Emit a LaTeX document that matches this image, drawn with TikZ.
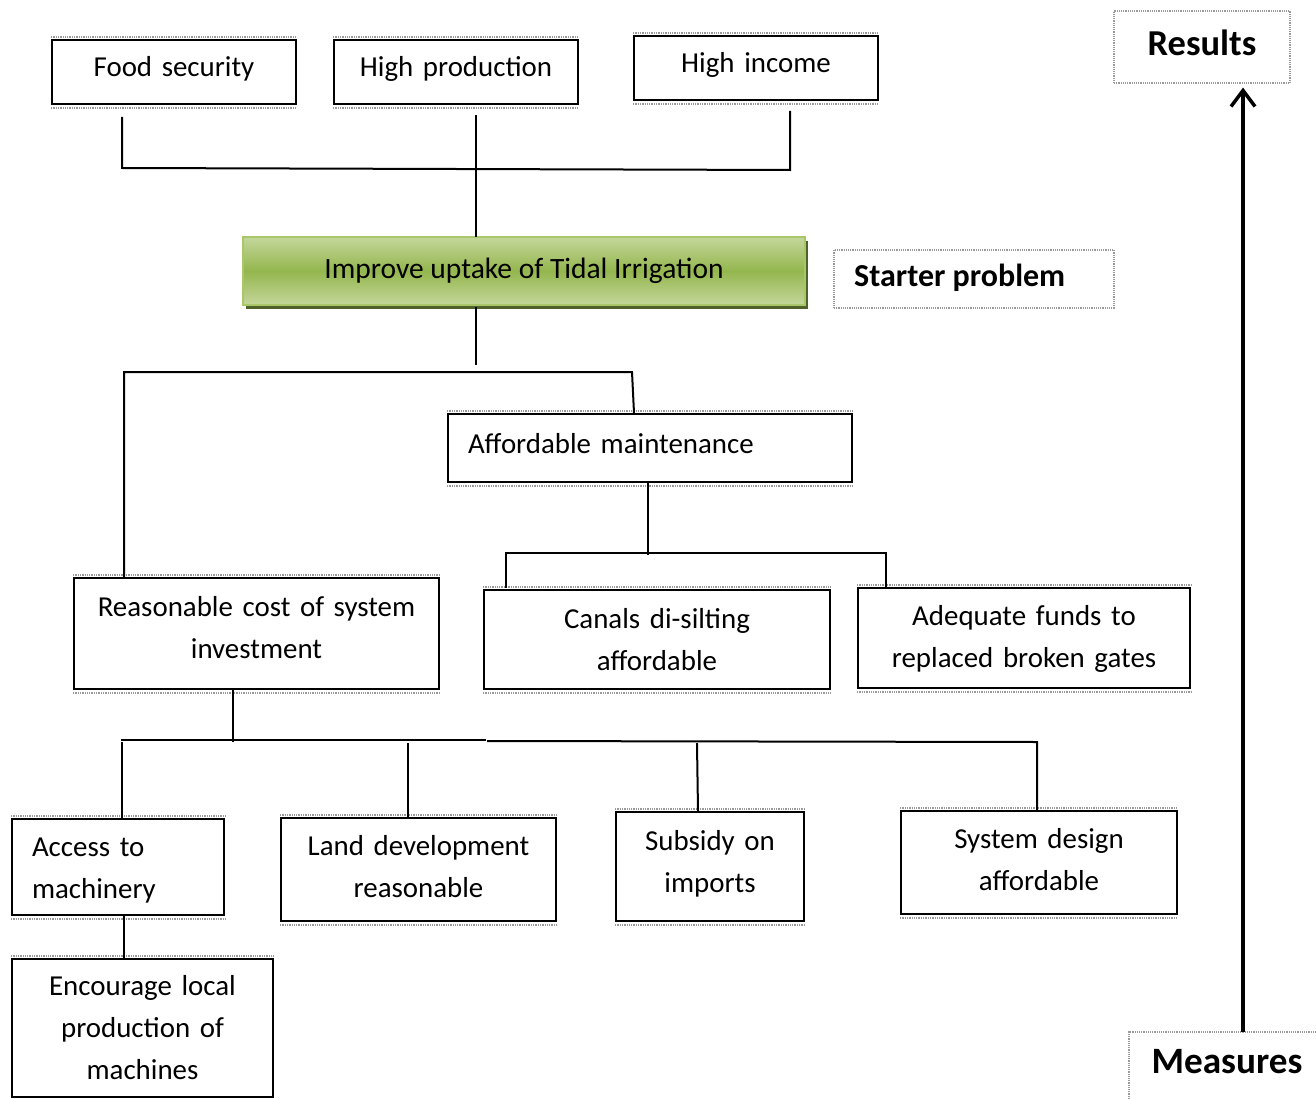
\documentclass[tikz,border=0pt]{standalone}
\usepackage{fontspec}
\setmainfont{Carlito}
\usetikzlibrary{arrows.meta,shadows}

\definecolor{leafmid}{HTML}{94B64E}
\definecolor{leaflight}{HTML}{C4D79B}
\definecolor{leafedge}{HTML}{A9C76A}
\definecolor{leafdark}{HTML}{4F6228}
\definecolor{rimgray}{HTML}{9A9A9A}

\tikzset{
  wire/.style={line width=2pt, line cap=rect},
  frame/.style={draw=black, line width=2pt, rectangle, inner sep=0pt},
  boxtext/.style={inner ysep=0pt, font=\fontsize{28.9}{42}\selectfont},
  softbox/.style={draw=rimgray, densely dotted, line width=1.2pt, rectangle, inner sep=0pt},
  tagtext/.style={font=\bfseries\fontsize{#1}{#1}\selectfont, inner sep=0pt},
  goalbox/.style={rectangle, draw=leafedge, line width=1.5pt,
    top color=leaflight, bottom color=leaflight, middle color=leafmid,
    drop shadow={shadow xshift=3pt, shadow yshift=-4pt, fill=leafdark, opacity=1},
    font=\fontsize{29.5}{34}\selectfont, inner sep=0pt},
}

% gray rims just above and below a framed box
\newcommand\rimlines[1]{%
  \draw[rimgray, densely dotted, line width=1.3pt]
    ([yshift=2pt]#1.north west) -- ([yshift=2pt]#1.north east)
    ([yshift=-3pt]#1.south west) -- ([yshift=-3pt]#1.south east);}

% framed box: name, centre, width, height, side padding, alignment, text rise, text
\newcommand\ruledbox[8]{%
  \pgfmathsetmacro\rbtextwidth{#3-2*#5}%
  \node[frame, minimum width=#3pt, minimum height=#4pt] (#1) at (#2) {};
  \rimlines{#1}
  \node[boxtext, text width=\rbtextwidth pt, align=#6] (#1-text)
    at ([yshift=#7pt]#1.center) {#8};}

\begin{document}
\begin{tikzpicture}[x=1pt, y=-1pt]
\useasboundingbox (0,0) rectangle (1316,1099);

% ---- results level
\ruledbox{food}{174,72}{244}{64}{6}{center}{3}{Food security}
\ruledbox{prod}{456,72}{244}{64}{6}{center}{3}{High production}
\ruledbox{income}{756,68}{244}{64}{6}{center}{3}{High income}

% ---- central problem
\node[goalbox, minimum width=562pt, minimum height=68pt] (goal) at (524,271)
  {Improve uptake of Tidal Irrigation};
\node[softbox, minimum width=280pt, minimum height=58pt] (starter) at (974,279) {};
\node[tagtext=32, anchor=west] (startertext) at (854,278) {Starter problem};

% ---- second level
\ruledbox{maint}{650,448}{404}{68}{20}{left}{4}{Affordable maintenance}
\ruledbox{cost}{256.5,633.5}{365}{111}{6}{center}{6}{Reasonable cost of system\\investment}
\ruledbox{canals}{657,639.5}{346}{99}{6}{center}{0}{Canals di-silting\\affordable}
\ruledbox{funds}{1024,638}{332}{100}{6}{center}{-1}{Adequate funds to\\replaced broken gates}

% ---- measures level
\ruledbox{access}{118,867}{212}{96}{20}{left}{-4}{Access to\\machinery}
\ruledbox{land}{418.5,869.5}{275}{103}{6}{center}{2.5}{Land development\\reasonable}
\ruledbox{subsidy}{710,866.5}{188}{109}{6}{center}{3}{Subsidy on\\imports}
\ruledbox{design}{1039,862.5}{276}{103}{6}{center}{3}{System design\\affordable}
\ruledbox{encourage}{142.5,1028}{261}{138}{6}{center}{0}{Encourage local\\production of\\machines}

% ---- results / measures scale
\node[softbox, minimum width=176pt, minimum height=72pt] (results) at (1202,47) {};
\node[tagtext=36.5] (resultstext) at (1202,43) {Results};
\coordinate (mtopleft) at (1129,1032);
\coordinate (mtopright) at (1316,1032);
\coordinate (mbottomleft) at (1129,1099);
\draw[rimgray, densely dotted, line width=1.2pt] (mbottomleft) -- (mtopleft) -- (mtopright);
\node[tagtext=37.2] (measures) at (1227,1062) {Measures};
\draw[line width=4.5pt, -{Straight Barb[length=16pt, width=24pt, line width=3.5pt]}]
  ([xshift=16pt]measures.north |- mtopleft) -- ([xshift=41pt,yshift=-4pt]results.south);

% ---- top tree: results to problem
\coordinate (topleft) at (122,168);
\coordinate (topright) at (790,170);
\draw[wire] ([xshift=-52pt,yshift=-13pt]food.south) -- (topleft) -- (topright)
  -- ([xshift=34pt,yshift=-11pt]income.south);
\draw[wire] ([xshift=20pt,yshift=-11pt]prod.south) -- ([xshift=-48pt]goal.north);

% ---- problem to second level
\coordinate (midleft) at (124,372);
\coordinate (midright) at (632,372);
\draw[wire] ([xshift=-48pt,yshift=-2pt]goal.south) -- ++(0,56);
\draw[wire] ([xshift=-132.5pt]cost.north) -- (midleft) -- (midright)
  -- ([xshift=-16pt]maint.north);

% ---- maintenance branch
\coordinate (maintleft) at (506,553);
\coordinate (maintright) at (886,553);
\draw[wire] ([xshift=-2pt]maint.south) -- ++(0,71);
\draw[wire] ([xshift=-151pt,yshift=2pt]canals.north) -- (maintleft) -- (maintright)
  -- ([xshift=-138pt]funds.north);

% ---- cost branch
\coordinate (lowleft) at (122,740);
\coordinate (lowgap) at (485,740);
\coordinate (lowgapend) at (488,741);
\coordinate (lowright) at (1037,742);
\draw[wire] ([xshift=-23.5pt]cost.south) -- ++(0,51);
\draw[wire] (lowleft) -- (lowgap);
\draw[wire] (lowgapend) -- (lowright) -- ([xshift=-2pt]design.north);
\draw[wire] ([xshift=4pt]access.north) -- ++(0,-75);
\draw[wire] ([xshift=-10.5pt]land.north) -- ++(0,-73);
\draw[wire] ([xshift=-12pt]subsidy.north) -- ++(-1,-67);

% ---- machinery to local production
\draw[wire] ([xshift=6pt]access.south) -- ([xshift=-18.5pt]encourage.north);
\end{tikzpicture}
\end{document}
